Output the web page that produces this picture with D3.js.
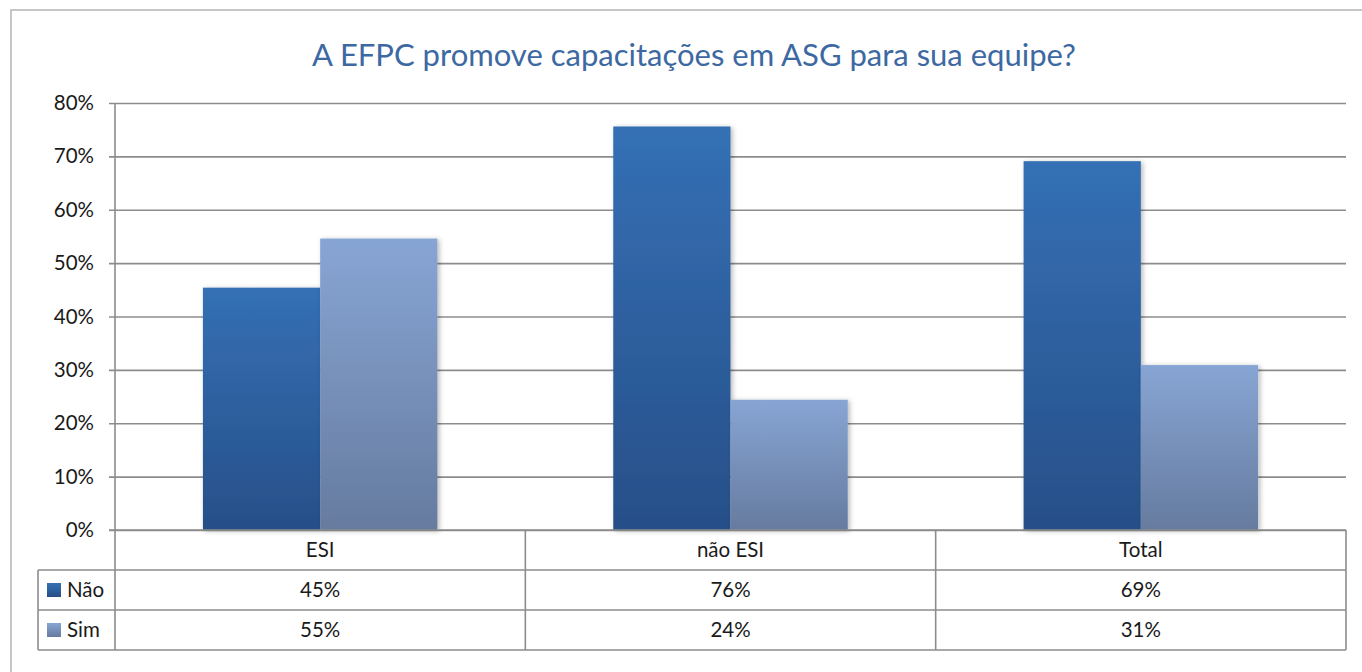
<!DOCTYPE html>
<html>
<head>
<meta charset="utf-8">
<script src="https://cdn.jsdelivr.net/npm/d3@7"></script>
<style>
  html, body { margin: 0; padding: 0; background: #ffffff; }
  svg { display: block; }
  text { font-family: Lato, "Open Sans", sans-serif; }
</style>
</head>
<body>
<svg id="chart" width="1362" height="672"></svg>
<script>
// ---- data ----
const title = "A EFPC promove capacitações em ASG para sua equipe?";
const categories = ["ESI", "não ESI", "Total"];
const seriesNames = ["Não", "Sim"];
const naoValues = [0.454, 0.756, 0.691];
const simValues = [0.546, 0.244, 0.309];
const yTicks = [0, 0.1, 0.2, 0.3, 0.4, 0.5, 0.6, 0.7, 0.8];

const seriesValues = [naoValues, simValues];
const data = categories.map((c, i) => ({
  cat: c,
  values: seriesNames.map((s, j) => ({ series: s, value: seriesValues[j][i] }))
}));

// ---- layout ----
const svg = d3.select("#chart");
const plotLeft = 115, plotRight = 1346, plotTop = 103, plotBottom = 530;
const rowH = 40;
const tableLeft = 38;
const gridColor = "#8c8c8c";
const fs = 20.5;

const x0 = d3.scaleBand().domain(categories).range([plotLeft, plotRight]).padding(0);
const x1 = d3.scaleBand().domain(seriesNames).range([0, x0.bandwidth()]).paddingInner(0).paddingOuter(0.75);
const y = d3.scaleLinear().domain([0, 0.8]).range([plotBottom, plotTop]);
const pct = d3.format(".0%");

// defs: gradients + shadow
const defs = svg.append("defs");
const grads = {
  "Não": ["#3470b5", "#274f88"],
  "Sim": ["#87a5d4", "#667b9f"]
};
seriesNames.forEach((s, i) => {
  const g = defs.append("linearGradient").attr("id", "g" + i)
    .attr("x1", 0).attr("y1", 0).attr("x2", 0).attr("y2", 1);
  g.append("stop").attr("offset", "0%").attr("stop-color", grads[s][0]);
  g.append("stop").attr("offset", "100%").attr("stop-color", grads[s][1]);
});
const color = d3.scaleOrdinal().domain(seriesNames).range(["url(#g0)", "url(#g1)"]);
const f = defs.append("filter").attr("id", "shadow").attr("x", "-10%").attr("y", "-10%").attr("width", "130%").attr("height", "130%");
f.append("feDropShadow").attr("dx", 2).attr("dy", 1).attr("stdDeviation", 2.5)
  .attr("flood-color", "#000").attr("flood-opacity", 0.28);

// outer border
svg.append("rect").attr("x", 11).attr("y", 10).attr("width", 1400).attr("height", 700)
  .attr("fill", "#fff").attr("stroke", "#b4b4b4").attr("stroke-width", 1.5);

// title
svg.append("text").attr("x", 694).attr("y", 66).attr("text-anchor", "middle")
  .attr("font-size", 31).attr("fill", "#3d69a2").text(title);

// gridlines + y axis
const yAxis = d3.axisLeft(y).tickValues(yTicks).tickFormat(pct)
  .tickSize(-(plotRight - plotLeft)).tickPadding(21);
const gy = svg.append("g").attr("transform", `translate(${plotLeft},0)`).call(yAxis);
gy.select(".domain").remove();
gy.selectAll(".tick line").attr("stroke", gridColor).attr("stroke-width", 1.6).attr("x1", -6);
gy.selectAll(".tick text").attr("font-size", fs).attr("fill", "#1a1a1a")
  .style("font-family", "Lato, 'Open Sans', sans-serif");

// bars
const groups = svg.append("g").selectAll("g").data(data).join("g")
  .attr("transform", d => `translate(${x0(d.cat)},0)`);
groups.selectAll("rect").data(d => d.values).join("rect")
  .attr("x", d => x1(d.series))
  .attr("y", d => y(d.value))
  .attr("width", x1.bandwidth())
  .attr("height", d => y(0) - y(d.value))
  .attr("fill", d => color(d.series))
  .attr("filter", "url(#shadow)");

// data table
const t = svg.append("g");
const lineStyle = sel => sel.attr("stroke", gridColor).attr("stroke-width", 1.6);
[plotBottom, plotBottom + rowH, plotBottom + 2 * rowH, plotBottom + 3 * rowH].forEach((yy, i) => {
  t.append("line").attr("x1", i === 0 ? plotLeft - 6 : tableLeft).attr("x2", plotRight)
    .attr("y1", yy).attr("y2", yy).call(lineStyle);
});
t.append("line").attr("x1", plotLeft).attr("x2", plotLeft).attr("y1", plotTop)
  .attr("y2", plotBottom + 3 * rowH).call(lineStyle);
t.append("line").attr("x1", tableLeft).attr("x2", tableLeft).attr("y1", plotBottom + rowH)
  .attr("y2", plotBottom + 3 * rowH).call(lineStyle);
categories.forEach(c => {
  const xx = x0(c) + x0.bandwidth();
  t.append("line").attr("x1", xx).attr("x2", xx).attr("y1", plotBottom)
    .attr("y2", plotBottom + 3 * rowH).call(lineStyle);
});
t.selectAll("text.cat").data(categories).join("text").attr("class", "cat")
  .attr("x", d => x0(d) + x0.bandwidth() / 2).attr("y", plotBottom + rowH / 2)
  .attr("dy", "0.35em").attr("text-anchor", "middle").attr("font-size", fs).attr("fill", "#1a1a1a")
  .text(d => d);
seriesNames.forEach((s, j) => {
  const cy = plotBottom + rowH * (j + 1) + rowH / 2;
  t.append("rect").attr("x", 47).attr("y", cy - 7).attr("width", 14).attr("height", 14)
    .attr("fill", color(s));
  t.append("text").attr("x", 67).attr("y", cy).attr("dy", "0.35em")
    .attr("font-size", fs).attr("fill", "#1a1a1a").text(s);
  t.selectAll("text.v" + j).data(data).join("text").attr("class", "v" + j)
    .attr("x", d => x0(d.cat) + x0.bandwidth() / 2).attr("y", cy).attr("dy", "0.35em")
    .attr("text-anchor", "middle").attr("font-size", fs).attr("fill", "#1a1a1a")
    .text(d => pct(d.values[j].value));
});
</script>
</body>
</html>
